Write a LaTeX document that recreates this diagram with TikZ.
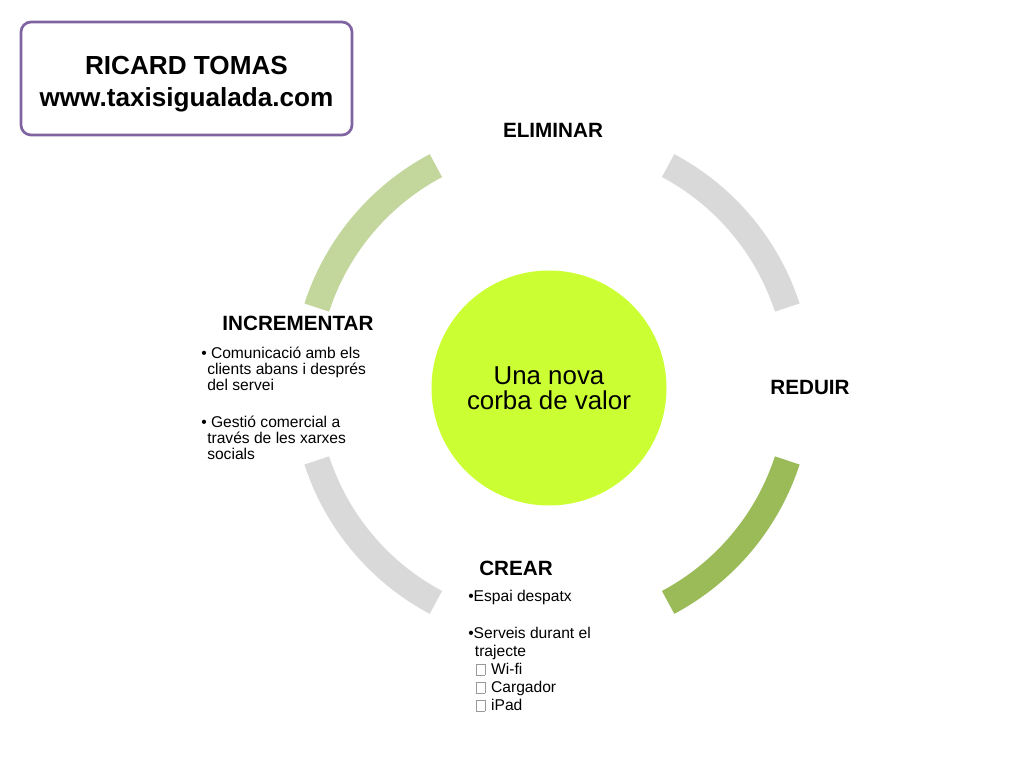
\documentclass[tikz,border=0pt]{standalone}
\usepackage{fontspec}
\setmainfont{Liberation Sans}
\definecolor{ringgray}{HTML}{D9D9D9}
\definecolor{ringlight}{HTML}{C3D69B}
\definecolor{ringdark}{HTML}{9BBB59}
\definecolor{corefill}{HTML}{CCFF33}
\definecolor{boxpurple}{HTML}{8064A2}
\newcommand{\emptysq}{{\setlength{\fboxsep}{0pt}\setlength{\fboxrule}{0.4pt}\fcolorbox{black!40}{white}{\rule{0pt}{7.5pt}\hspace{6.4pt}}}}
\begin{document}
\begin{tikzpicture}[x=0.75pt,y=0.75pt,
  seg/.style={line width=19.5pt},
  head/.style={font=\fontsize{15.5}{18}\selectfont\bfseries, inner sep=0pt},
  body/.style={font=\fontsize{11.7}{12}\selectfont, align=left, inner sep=0pt, anchor=north west},
  crearbody/.style={font=\fontsize{11.7}{13.5}\selectfont, align=left, inner sep=0pt, anchor=north west},
  titlebox/.style={draw=boxpurple, line width=2pt, rounded corners=7.5pt, fill=white,
    minimum width=248.25pt, minimum height=84.75pt},
  titletext/.style={align=center, inner sep=0pt, font=\fontsize{19.6}{23.5}\selectfont\bfseries}]
\useasboundingbox (0,0) rectangle (1024,768);
\fill[white] (0,0) rectangle (1024,768);

% ring segments
\coordinate (R) at (552,384);
\draw[seg, ringgray]  ([shift={(18:185.5pt)}]R)  arc[start angle=18,  end angle=62,  radius=185.5pt];
\draw[seg, ringlight] ([shift={(118:185.5pt)}]R) arc[start angle=118, end angle=162, radius=185.5pt];
\draw[seg, ringgray]  ([shift={(198:185.5pt)}]R) arc[start angle=198, end angle=242, radius=185.5pt];
\draw[seg, ringdark]  ([shift={(298:185.5pt)}]R) arc[start angle=298, end angle=342, radius=185.5pt];

% centre
\node[circle, fill=corefill, minimum size=176.25pt, inner sep=0pt, align=center,
  font=\fontsize{19.4}{19}\selectfont] (core) at (549,380) {Una nova\\corba de valor};

% title box
\node[titlebox] (title) at (186.5,689.5) {};
\node[titletext] (titletxt) at (186.5,684) {RICARD TOMAS\\www.taxisigualada.com};

% headings
\node[head] (elim) at (553,638) {ELIMINAR};
\node[head] (red) at (810,381) {REDUIR};
\node[head] (inc) at (298,445) {INCREMENTAR};
\node[head] (crear) at (516,200) {CREAR};

% incrementar items
\node[body] (incA) at (201,421) {\textbullet\ Comunicació amb els\\\hspace*{4.5pt}clients abans i després\\\hspace*{4.5pt}del servei};
\node[body] (incB) at (201,352) {\textbullet\ Gestió comercial a\\\hspace*{4.5pt}través de les xarxes\\\hspace*{4.5pt}socials};

% crear items
\node[crearbody] (crA) at (468,178) {\textbullet Espai despatx};
\node[crearbody] (crB) at (468,141) {\textbullet Serveis durant el\\\hspace*{5pt}trajecte\\\hspace*{5.5pt}\emptysq\hspace{1.2pt} Wi-fi\\\hspace*{5.5pt}\emptysq\hspace{1.2pt} Cargador\\\hspace*{5.5pt}\emptysq\hspace{1.2pt} iPad};
\end{tikzpicture}
\end{document}
